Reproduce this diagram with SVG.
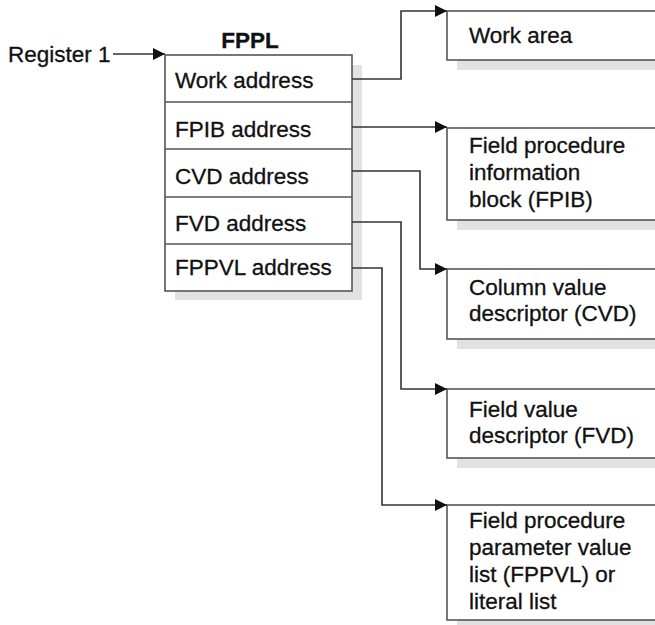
<svg xmlns="http://www.w3.org/2000/svg" width="655" height="625" viewBox="0 0 655 625">
<defs>
<marker id="ah" markerWidth="13" markerHeight="12" refX="12" refY="6" orient="auto" markerUnits="userSpaceOnUse">
<path d="M0,0 L12,6 L0,12 Z" fill="#111"/>
</marker>
</defs>
<style>
text{font-family:"Liberation Sans",Arial,sans-serif;font-size:22.5px;fill:#111;stroke:#111;stroke-width:0.3}
.b{font-weight:bold}
.box{fill:#fff;stroke:#555;stroke-width:1.6}
.sh{fill:#e2e2e2}
.div{stroke:#555;stroke-width:1.6}
.c{fill:none;stroke:#333;stroke-width:1.6}
</style>
<rect width="655" height="625" fill="#fff"/>
<g id="register1"><text x="8" y="62">Register 1</text></g>
<g id="fppl">
<rect class="sh" x="175" y="65" width="187" height="235"/>
<rect class="box" x="165" y="55" width="187" height="236"/>
<line class="div" x1="165" y1="102" x2="352" y2="102"/>
<line class="div" x1="165" y1="149" x2="352" y2="149"/>
<line class="div" x1="165" y1="197" x2="352" y2="197"/>
<line class="div" x1="165" y1="244" x2="352" y2="244"/>
<text class="b" x="250" y="48" text-anchor="middle">FPPL</text>
<text x="175" y="88">Work address</text>
<text x="175" y="137">FPIB address</text>
<text x="175" y="184">CVD address</text>
<text x="175" y="231">FVD address</text>
<text x="175" y="275">FPPVL address</text>
</g>
<g id="workarea">
<rect class="sh" x="457" y="21" width="198" height="49"/>
<rect class="box" x="447" y="11" width="210" height="49"/>
<text x="469" y="43">Work area</text>
</g>
<g id="fpib">
<rect class="sh" x="457" y="138" width="198" height="92"/>
<rect class="box" x="447" y="128" width="210" height="92"/>
<text x="469" y="153">Field procedure</text>
<text x="469" y="180">information</text>
<text x="469" y="207">block (FPIB)</text>
</g>
<g id="cvd">
<rect class="sh" x="457" y="279" width="198" height="70"/>
<rect class="box" x="447" y="269" width="210" height="70"/>
<text x="469" y="295">Column value</text>
<text x="469" y="321">descriptor (CVD)</text>
</g>
<g id="fvd">
<rect class="sh" x="457" y="399" width="198" height="69"/>
<rect class="box" x="447" y="389" width="210" height="69"/>
<text x="469" y="417">Field value</text>
<text x="469" y="443">descriptor (FVD)</text>
</g>
<g id="fppvl">
<rect class="sh" x="457" y="515" width="198" height="115"/>
<rect class="box" x="447" y="505" width="210" height="115"/>
<text x="469" y="528">Field procedure</text>
<text x="469" y="555">parameter value</text>
<text x="469" y="582">list (FPPVL) or</text>
<text x="469" y="609">literal list</text>
</g>
<g id="connectors">
<path class="c" d="M113,54 H165" marker-end="url(#ah)"/>
<path class="c" d="M352,79 H401 V11 H447" marker-end="url(#ah)"/>
<path class="c" d="M352,127 H447" marker-end="url(#ah)"/>
<path class="c" d="M352,171 H420 V269 H447" marker-end="url(#ah)"/>
<path class="c" d="M352,222 H401 V389 H447" marker-end="url(#ah)"/>
<path class="c" d="M352,268 H382 V505 H447" marker-end="url(#ah)"/>
</g>
</svg>
